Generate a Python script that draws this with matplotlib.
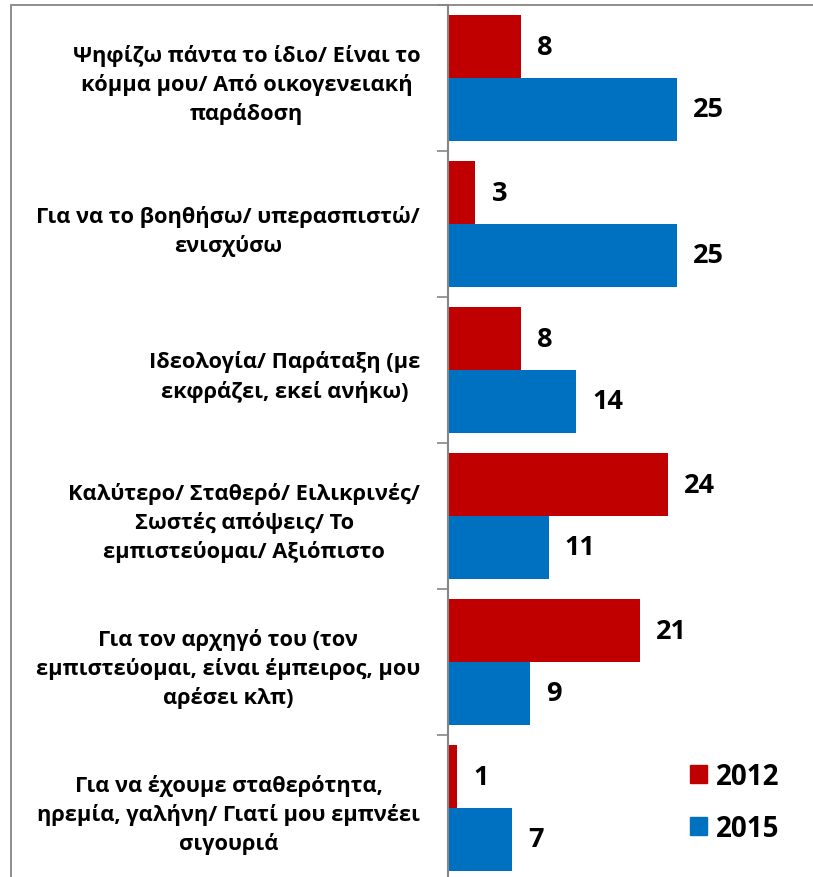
import matplotlib
matplotlib.use("Agg")
import matplotlib.pyplot as plt
from matplotlib.patches import Rectangle, Patch

plt.rcParams["font.family"] = ["Open Sans", "DejaVu Sans"]
plt.rcParams["font.weight"] = "bold"

categories = [
    "Ψηφίζω πάντα το ίδιο/ Είναι το\nκόμμα μου/ Από οικογενειακή\nπαράδοση",
    "Για να το βοηθήσω/ υπερασπιστώ/\nενισχύσω",
    "Ιδεολογία/ Παράταξη (με\nεκφράζει, εκεί ανήκω)",
    "Καλύτερο/ Σταθερό/ Ειλικρινές/\nΣωστές απόψεις/ Το\nεμπιστεύομαι/ Αξιόπιστο",
    "Για τον αρχηγό του (τον\nεμπιστεύομαι, είναι έμπειρος, μου\nαρέσει κλπ)",
    "Για να έχουμε σταθερότητα,\nηρεμία, γαλήνη/ Γιατί μου εμπνέει\nσιγουριά",
]
vals_2012 = [8, 3, 8, 24, 21, 1]
vals_2015 = [25, 25, 14, 11, 9, 7]
series_names = ["2012", "2015"]
colors = ["#C00000", "#0070C0"]

W, H = 813, 878
fig = plt.figure(figsize=(W / 100, H / 100), dpi=100)

# outer chart frame (clipped at right/bottom like the source)
fig.patches.append(Rectangle((11 / W, -0.05), 1.2, (H - 6) / H + 0.05,
                             transform=fig.transFigure, fill=False,
                             edgecolor="#868686", lw=1.3))

ax = fig.add_axes([448 / W, (H - 882) / H, (W - 448) / W, 876 / H])
ypos = list(range(len(categories)))
h = 0.43
ax.barh([y - h / 2 for y in ypos], vals_2012, height=h, color=colors[0], label=series_names[0])
ax.barh([y + h / 2 for y in ypos], vals_2015, height=h, color=colors[1], label=series_names[1])

for y, v in zip(ypos, vals_2012):
    ax.text(v + 1.75, y - h / 2, str(v), va="center", ha="left", fontsize=19.5, fontweight="bold")
for y, v in zip(ypos, vals_2015):
    ax.text(v + 1.75, y + h / 2, str(v), va="center", ha="left", fontsize=19.5, fontweight="bold")

ax.set_xlim(0, 39.9)
ax.set_ylim(5.5, -0.5)
ax.set_xticks([])
ax.set_yticks([y - 0.5 for y in ypos] + [5.5])
ax.set_yticklabels([])
ax.set_yticks(ypos, minor=True)
ax.set_yticklabels(categories, minor=True, fontsize=15.7, fontweight="bold",
                   multialignment="center", linespacing=1.42)
ax.tick_params(axis="y", which="major", length=8, width=1.2, color="#868686")
ax.tick_params(axis="y", which="minor", length=0, pad=20)
for s in ["top", "right", "bottom"]:
    ax.spines[s].set_visible(False)
ax.spines["left"].set_color("#868686")
ax.spines["left"].set_linewidth(1.5)

handles = [Patch(color=c) for c in colors]
fig.legend(handles, series_names, loc="upper left", bbox_to_anchor=(665 / W, 1 - 738 / H),
           frameon=False, handlelength=0.62, handleheight=0.62,
           handletextpad=0.3, labelspacing=0.82, prop={"weight": "bold", "size": 20})

fig.savefig("out.png", dpi=100)
